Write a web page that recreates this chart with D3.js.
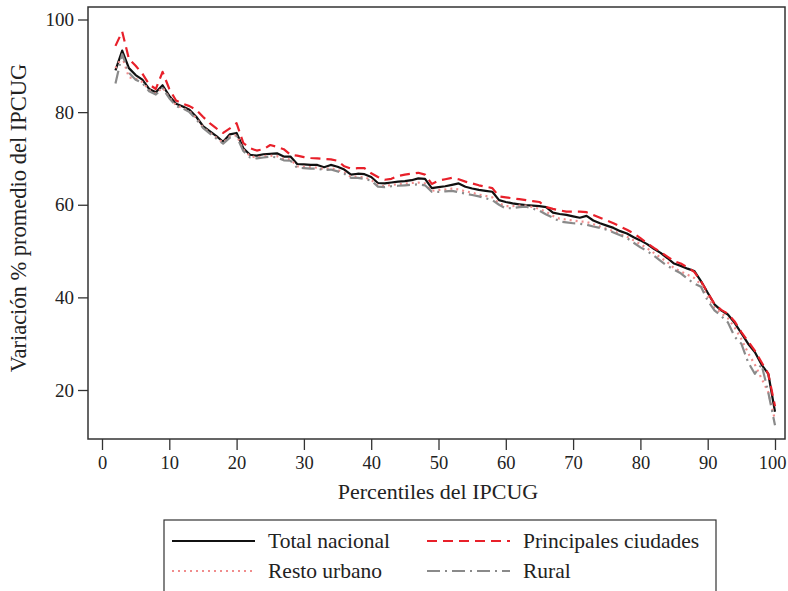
<!DOCTYPE html>
<html>
<head>
<meta charset="utf-8">
<script src="https://cdn.jsdelivr.net/npm/d3@7"></script>
<style>
  html, body { margin: 0; padding: 0; background: #fff; }
  svg { display: block; }
  text { font-family: "Liberation Serif", "DejaVu Serif", serif; fill: #222; }
</style>
</head>
<body>
<svg id="chart" width="788" height="591"></svg>
<script>
// Percentiles del IPCUG (2..100)
const percentiles = d3.range(2, 101);

const totalNacional = [
  89.0, 93.3, 89.5, 88.0, 87.0, 85.0, 84.3, 85.8, 83.5,
  81.8, 81.2, 80.5, 79.0, 77.0, 75.9, 74.8, 73.6, 75.2, 75.5,
  72.2, 70.8, 70.6, 70.9, 71.0, 71.1, 70.4, 70.4, 68.8, 68.7,
  68.6, 68.6, 68.1, 68.6, 68.2, 67.6, 66.5, 66.7, 66.6, 66.0,
  64.7, 64.6, 64.8, 65.0, 65.1, 65.3, 65.7, 65.6, 63.6, 63.8,
  64.0, 64.3, 64.6, 63.9, 63.5, 63.2, 63.0, 62.8, 61.0, 60.6,
  60.3, 60.1, 59.9, 59.8, 59.7, 59.5, 58.3, 58.0, 57.8, 57.5,
  57.2, 57.6, 56.6, 56.0, 55.5, 55.0, 54.3, 53.8, 53.0, 52.3,
  51.5, 50.5, 49.6, 48.5, 47.3, 46.8, 46.2, 45.7, 43.5, 41.0,
  38.5, 37.2, 36.3, 34.5, 32.3, 30.0, 28.2, 25.5, 23.5, 15.3
];

const principalesCiudades = [
  94.3, 97.4, 91.5, 90.0, 88.3, 86.0, 85.0, 88.7, 85.0,
  82.5, 81.8, 81.3, 80.5, 79.0, 77.6, 76.5, 75.5, 76.5, 77.6,
  73.3, 72.2, 71.7, 72.0, 72.9, 72.5, 72.0, 70.8, 70.6, 70.3,
  70.1, 70.0, 69.9, 69.8, 69.5, 68.3, 67.8, 67.9, 67.9, 66.8,
  66.0, 65.4, 65.6, 66.2, 66.5, 66.7, 66.9, 66.5, 64.5, 65.2,
  65.5, 65.8, 65.5, 65.0, 64.6, 64.2, 63.9, 63.6, 61.8, 61.6,
  61.4, 61.2, 61.0, 60.8, 60.6, 59.5, 59.1, 58.8, 58.5, 58.5,
  58.5, 58.4, 57.8, 57.2, 56.6, 56.0, 55.3, 54.6, 53.8, 52.8,
  51.7, 50.7, 49.8, 48.8, 47.8, 47.3, 46.5, 45.5, 43.5, 41.0,
  38.6, 37.3, 36.5, 34.8, 32.5, 30.5, 28.5, 26.0, 23.5, 16.5
];

const restoUrbano = [
  89.5, 92.0, 87.5, 87.2, 86.5, 84.8, 84.0, 85.3, 83.2,
  81.5, 80.9, 80.2, 78.7, 76.8, 75.6, 74.5, 73.4, 74.8, 75.0,
  71.9, 70.5, 70.2, 70.5, 70.6, 70.5, 69.9, 69.8, 68.3, 68.2,
  68.1, 68.0, 67.7, 67.9, 67.5, 67.0, 66.0, 66.1, 65.9, 65.4,
  64.2, 64.0, 64.3, 64.4, 64.6, 64.7, 64.8, 64.6, 63.0, 63.2,
  63.3, 63.5, 63.3, 62.9, 62.6, 62.2, 61.9, 61.6, 60.3, 59.7,
  59.7, 59.8, 59.8, 59.5, 59.1, 58.5, 57.6, 57.0, 56.8, 56.6,
  56.4, 56.3, 55.8, 55.3, 54.8, 54.3, 53.7, 53.1, 52.3, 51.5,
  50.6, 49.6, 48.6, 47.6, 46.3, 45.6, 44.9, 44.2, 42.8, 40.2,
  37.8, 36.6, 35.5, 33.5, 31.0, 28.0, 25.5, 22.5, 19.5, 13.5
];

const rural = [
  86.2, 92.5, 88.5, 87.0, 86.3, 84.5, 83.8, 85.2, 83.0,
  81.3, 80.8, 80.0, 78.5, 76.6, 75.4, 74.3, 73.2, 74.5, 74.8,
  71.6, 70.2, 70.0, 70.2, 70.4, 70.2, 69.6, 69.5, 68.0, 67.9,
  67.8, 67.8, 67.5, 67.6, 67.2, 66.7, 65.8, 65.8, 65.6, 65.2,
  63.9, 63.8, 64.0, 64.1, 64.2, 64.3, 64.4, 64.2, 62.8, 62.8,
  62.9, 63.0, 62.7, 62.4, 62.1, 61.8, 61.4, 61.0, 60.0, 59.2,
  59.3, 59.5, 59.6, 59.2, 58.7, 57.9, 57.2, 56.4, 56.2, 56.0,
  55.9, 55.7, 55.3, 55.0, 54.6, 54.0, 53.4, 52.8, 51.8, 50.8,
  50.0, 49.0, 47.9, 46.8, 46.0, 45.2, 44.0, 43.0, 42.3, 39.3,
  37.2, 36.0, 34.6, 31.5, 30.0, 26.0, 23.5, 25.5, 19.5, 12.4
];

const xTicks = [0, 10, 20, 30, 40, 50, 60, 70, 80, 90, 100];
const yTicks = [20, 40, 60, 80, 100];
const seriesNames = ["Total nacional", "Principales ciudades", "Resto urbano", "Rural"];

const xLabel = "Percentiles del IPCUG";
const yLabel = "Variación % promedio del IPCUG";

// ---- layout ----
const frame = { left: 88, right: 785, top: 7, bottom: 439 };
const x = d3.scaleLinear().domain([0, 100]).range([102, 775]);
const y = d3.scaleLinear().domain([20, 100]).range([390, 19.5]);

const svg = d3.select("#chart");

const styles = [
  { values: totalNacional, color: "#111111", width: 2.2, dash: null },
  { values: principalesCiudades, color: "#e8202a", width: 2.2, dash: "10,6" },
  { values: restoUrbano, color: "#f08c8c", width: 2.2, dash: "2,4" },
  { values: rural, color: "#8a8a8a", width: 2.2, dash: "13,5,2,5" }
];

// plot frame
svg.append("rect")
  .attr("x", frame.left).attr("y", frame.top)
  .attr("width", frame.right - frame.left)
  .attr("height", frame.bottom - frame.top)
  .attr("fill", "none").attr("stroke", "#333").attr("stroke-width", 1.5);

// y axis
const yAxis = d3.axisLeft(y).tickValues(yTicks).tickSize(10).tickPadding(4);
const gy = svg.append("g").attr("transform", `translate(${frame.left},0)`).call(yAxis);
gy.select(".domain").remove();
gy.selectAll(".tick line").attr("stroke", "#333").attr("stroke-width", 1.3);
gy.selectAll(".tick text").attr("font-size", 19).attr("font-family", "Liberation Serif").attr("fill", "#222");

// x axis
const xAxis = d3.axisBottom(x).tickValues(xTicks).tickSize(11).tickPadding(6);
const gx = svg.append("g").attr("transform", `translate(0,${frame.bottom})`).call(xAxis);
gx.select(".domain").remove();
gx.selectAll(".tick line").attr("stroke", "#333").attr("stroke-width", 1.3);
gx.selectAll(".tick text").attr("font-size", 18.5).attr("font-family", "Liberation Serif").attr("fill", "#222")
  .attr("dx", d => d === 100 ? -3 : 0);

// axis titles
svg.append("text")
  .attr("x", 438).attr("y", 499)
  .attr("text-anchor", "middle").attr("font-size", 22)
  .text(xLabel);

svg.append("text")
  .attr("transform", `translate(26,218) rotate(-90)`)
  .attr("text-anchor", "middle").attr("font-size", 22.5)
  .text(yLabel);

// lines
const line = d3.line()
  .x((d, i) => x(percentiles[i]))
  .y(d => y(d));

styles.forEach(s => {
  svg.append("path")
    .datum(s.values)
    .attr("d", line)
    .attr("fill", "none")
    .attr("stroke", s.color)
    .attr("stroke-width", s.width)
    .attr("stroke-linejoin", "round")
    .attr("stroke-dasharray", s.dash);
});

// legend
const lg = svg.append("g");
lg.append("rect")
  .attr("x", 164).attr("y", 520).attr("width", 552).attr("height", 72)
  .attr("fill", "#fff").attr("stroke", "#333").attr("stroke-width", 1.2);

const legendPos = [
  { lx: 172, ty: 541 }, { lx: 427, ty: 541 },
  { lx: 172, ty: 571 }, { lx: 427, ty: 571 }
];
styles.forEach((s, i) => {
  const p = legendPos[i];
  lg.append("line")
    .attr("x1", p.lx).attr("x2", p.lx + 83)
    .attr("y1", p.ty).attr("y2", p.ty)
    .attr("stroke", s.color).attr("stroke-width", s.width)
    .attr("stroke-dasharray", s.dash);
  lg.append("text")
    .attr("x", p.lx + 96).attr("y", p.ty + 7)
    .attr("font-size", 21.5)
    .text(seriesNames[i]);
});
</script>
</body>
</html>
